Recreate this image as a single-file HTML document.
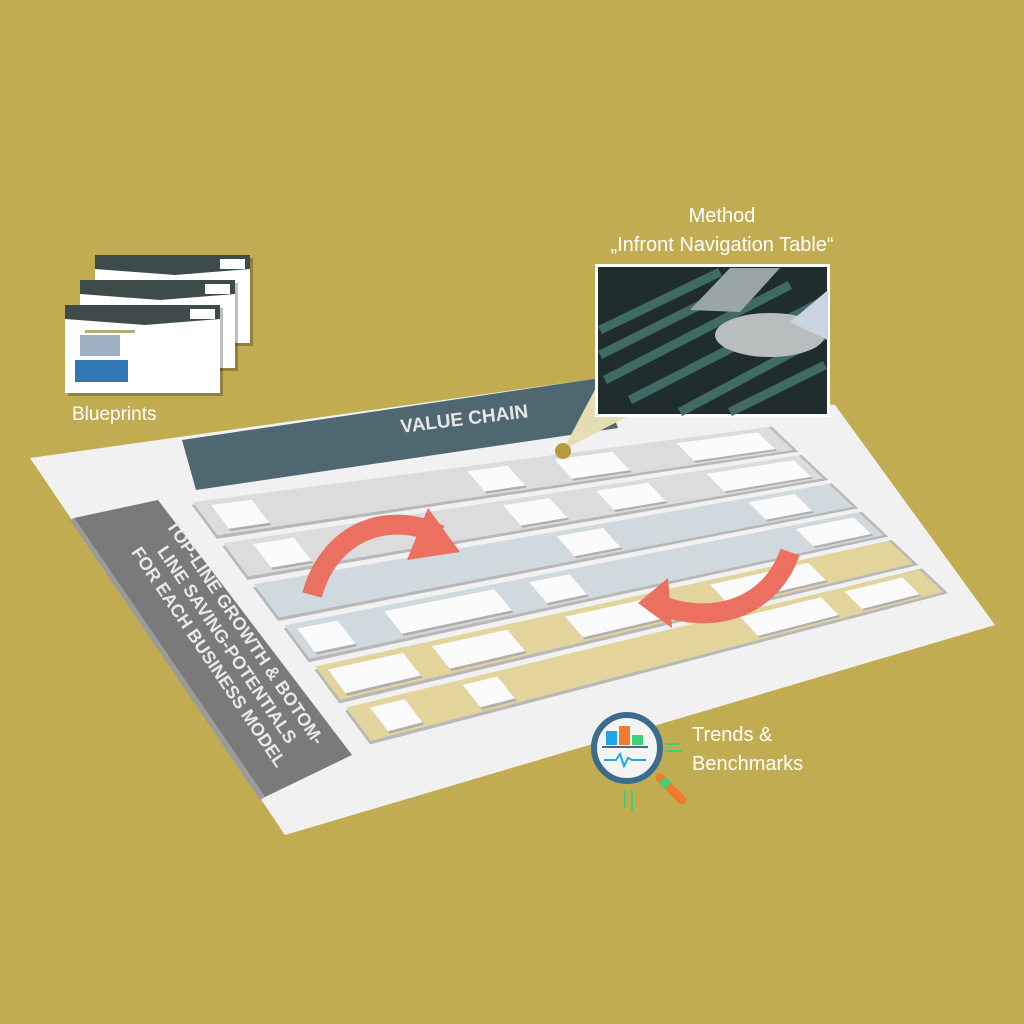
<!DOCTYPE html>
<html><head><meta charset="utf-8"><style>
html,body{margin:0;padding:0;background:#C2AC52;width:1024px;height:1024px;overflow:hidden}
svg{display:block}
text{font-family:"Liberation Sans",sans-serif}
</style></head><body>
<svg id="s" width="1024" height="1024" viewBox="0 0 1024 1024" xmlns="http://www.w3.org/2000/svg">
<rect width="1024" height="1024" fill="#C2AC52"/>
<polygon points="30,458 600,378 835,405 995,625 285,835" fill="#F1F1F1"/>
<polygon points="182,440 600,378 618,428 196,490" fill="#4F6770"/>
<text x="465" y="425" transform="rotate(-7 465 425)" fill="#E6E6E6" font-size="19" font-weight="bold" text-anchor="middle">VALUE CHAIN</text>
<polygon points="74,518 158,500 352,755 265,797" fill="#7A7A7A"/>
<polygon points="70,520 74,518 265,797 260,800" fill="#9a9a9a"/>
<g id="rows"></g>
<g transform="translate(222,648) rotate(56)" fill="#E9E9E9" font-weight="bold" font-size="18" text-anchor="middle">
<text x="0" y="-22">TOP-LINE GROWTH &amp; BOTOM-</text>
<text x="0" y="0">LINE SAVING-POTENTIALS</text>
<text x="0" y="22">FOR EACH BUSINESS MODEL</text>
</g>
<path d="M312,595 C330,530 390,510 440,535" fill="none" stroke="#EB705F" stroke-width="20"/>
<polygon points="428,508 460,552 407,560" fill="#EB705F"/>
<path d="M790,552 C770,610 710,625 660,605" fill="none" stroke="#EB705F" stroke-width="20"/>
<polygon points="668,578 638,603 672,628" fill="#EB705F"/>
<polygon points="563,450 600,380 640,410" fill="#E6DDB2"/>
<circle cx="563" cy="451" r="8" fill="#B59A3E"/>
<rect x="595" y="264" width="235" height="153" fill="#fff"/>
<rect x="598" y="267" width="229" height="147" fill="#1F2E2C"/>
<g stroke="#3F6A66" stroke-width="9">
<line x1="600" y1="330" x2="720" y2="272"/><line x1="600" y1="355" x2="760" y2="275"/>
<line x1="605" y1="380" x2="790" y2="285"/><line x1="630" y1="400" x2="825" y2="300"/>
<line x1="680" y1="412" x2="825" y2="335"/><line x1="730" y1="412" x2="825" y2="365"/>
</g>
<ellipse cx="770" cy="335" rx="55" ry="22" fill="#B9BDBE"/>
<polygon points="690,310 730,268 780,268 740,312" fill="#9AA5A5"/>
<path d="M790,322 L828,290 L828,340 Z" fill="#C9D4E0"/>
<text x="722" y="222" fill="#fff" font-size="20" text-anchor="middle">Method</text>
<text x="722" y="251" fill="#fff" font-size="20" text-anchor="middle">„Infront Navigation Table“</text>
<g id="bp"></g>
<text x="72" y="420" fill="#fff" font-size="19">Blueprints</text>
<g>
<line x1="625" y1="790" x2="625" y2="808" stroke="#3DD17E" stroke-width="2"/>
<line x1="632" y1="790" x2="632" y2="812" stroke="#3DD17E" stroke-width="2"/>
<line x1="665" y1="744" x2="680" y2="744" stroke="#3DD17E" stroke-width="2"/>
<line x1="665" y1="751" x2="682" y2="751" stroke="#3DD17E" stroke-width="2"/>
<line x1="660" y1="778" x2="682" y2="800" stroke="#F07A2E" stroke-width="9" stroke-linecap="round"/>
<line x1="662" y1="780" x2="668" y2="786" stroke="#3DD17E" stroke-width="9"/>
<circle cx="627" cy="748" r="33" fill="#F4F4F4" stroke="#3C6C8C" stroke-width="6"/>
<rect x="606" y="731" width="11" height="14" fill="#1EA7E8"/>
<rect x="619" y="726" width="11" height="19" fill="#F07A2E"/>
<rect x="632" y="735" width="11" height="10" fill="#3DD17E"/>
<line x1="602" y1="747" x2="648" y2="747" stroke="#4F6770" stroke-width="2"/>
<polyline points="604,760 616,760 620,754 624,766 628,758 632,760 646,760" fill="none" stroke="#1EA7E8" stroke-width="2"/>
</g>
<text x="692" y="741" fill="#fff" font-size="20">Trends &amp;</text>
<text x="692" y="770" fill="#fff" font-size="20">Benchmarks</text>
</svg>
<script>
(function(){
var NS="http://www.w3.org/2000/svg";
function L(t){return [188+184*t,500+247*t]}
function R(t){return [770+180*t,425+170*t]}
function P(t,s){var a=L(t),b=R(t);return [a[0]*(1-s)+b[0]*s,a[1]*(1-s)+b[1]*s]}
function poly(g,pts,fill){var p=document.createElementNS(NS,"polygon");p.setAttribute("points",pts.map(function(q){return q[0].toFixed(1)+","+q[1].toFixed(1)}).join(" "));p.setAttribute("fill",fill);g.appendChild(p);}
var g=document.getElementById("rows");
var cols=["#DCDCDC","#DCDCDC","#D0DADE","#D0DADE","#E2D49A","#E2D49A"];
var boxes=[[[0.03,0.1],[0.47,0.54],[0.62,0.72],[0.83,0.97]],
[[0.05,0.12],[0.48,0.56],[0.64,0.73],[0.83,0.98]],
[[0.52,0.6],[0.85,0.93]],
[[0.02,0.09],[0.17,0.36],[0.42,0.49],[0.88,0.98]],
[[0.02,0.15],[0.2,0.33],[0.43,0.58],[0.68,0.85]],
[[0.04,0.1],[0.2,0.26],[0.68,0.82],[0.86,0.96]]];
var seg=1/6;
for(var i=0;i<6;i++){
 var t0=i*seg+0.01,t1=(i+1)*seg-0.01;
 poly(g,[L(t0+0.01),R(t0),R(t1),L(t1)],"#B8B8B8");
 poly(g,[P(t0,0.005),P(t0,0.995),P(t1-0.012,0.995),P(t1-0.012,0.005)],cols[i]);
 boxes[i].forEach(function(b){
  var a=t0+0.02,c=t1-0.03;
  poly(g,[P(a+0.01,b[0]),P(a+0.01,b[1]),P(c+0.01,b[1]),P(c+0.01,b[0])],"#AFAFAF");
  poly(g,[P(a,b[0]),P(a,b[1]),P(c,b[1]),P(c,b[0])],"#FBFBFB");
 });
}
var bp=document.getElementById("bp");
var offs=[[95,255],[80,280],[65,305]];
offs.forEach(function(o){
 var x=o[0],y=o[1];
 poly(bp,[[x+3,y+3],[x+158,y+3],[x+158,y+91],[x+3,y+91]],"rgba(0,0,0,0.25)");
 poly(bp,[[x,y],[x+155,y],[x+155,y+88],[x,y+88]],"#FFFFFF");
 poly(bp,[[x,y],[x+155,y],[x+155,y+14],[x+80,y+20],[x,y+14]],"#3E4B4B");
 poly(bp,[[x+125,y+4],[x+150,y+4],[x+150,y+14],[x+125,y+14]],"#fff");
 poly(bp,[[x+20,y+25],[x+70,y+25],[x+70,y+28],[x+20,y+28]],"#B6AD7A");
});
poly(bp,[[75,360],[128,360],[128,382],[75,382]],"#2F78B4");
poly(bp,[[80,335],[120,335],[120,356],[80,356]],"#9FB2C4");
})();
</script>
</body></html>
